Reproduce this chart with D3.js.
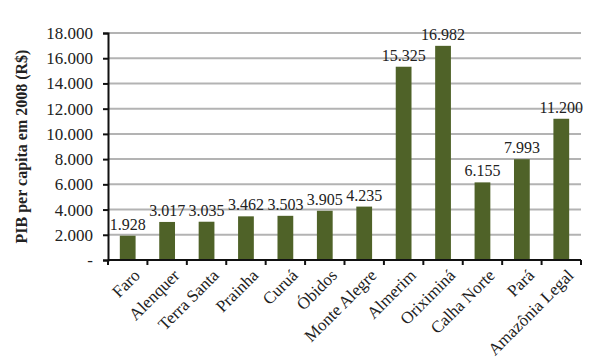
<!DOCTYPE html>
<html>
<head>
<meta charset="utf-8">
<script src="https://cdn.jsdelivr.net/npm/d3@7"></script>
<style>
  body { margin: 0; background: #fff; }
</style>
</head>
<body>
<svg width="602" height="359"></svg>
<script>
// data
var categories = ["Faro", "Alenquer", "Terra Santa", "Prainha", "Curuá", "Óbidos",
  "Monte Alegre", "Almerim", "Oriximiná", "Calha Norte", "Pará", "Amazônia Legal"];
var pibValues = [1928, 3017, 3035, 3462, 3503, 3905, 4235, 15325, 16982, 6155, 7993, 11200];
var yTicks = [0, 2000, 4000, 6000, 8000, 10000, 12000, 14000, 16000, 18000];

var FONT = "Liberation Serif";

var svg = d3.select("svg"),
    margin = {top: 33, right: 21, bottom: 99, left: 108},
    width = +svg.attr("width") - margin.left - margin.right,
    height = +svg.attr("height") - margin.top - margin.bottom,
    g = svg.append("g").attr("transform", "translate(" + margin.left + "," + margin.top + ")");

var x = d3.scaleBand().domain(categories).range([0, width]).paddingInner(0.6).paddingOuter(0.3);
var xb = d3.scaleBand().domain(categories).range([0, width]);
var y = d3.scaleLinear().domain([0, 18000]).range([height, 0]);

// pt-BR style thousands with dot, zero shown as a dash
var fmt = function(v) { return v === 0 ? "-" : d3.format(",")(v).replace(/,/g, "."); };

// gridlines
g.selectAll(".grid")
  .data(yTicks.filter(function(d) { return d > 0; }))
  .enter().append("line")
    .attr("x1", 0).attr("x2", width)
    .attr("y1", function(d) { return y(d); })
    .attr("y2", function(d) { return y(d); })
    .attr("stroke", "#b3b3b3").attr("stroke-width", 2);

// bars
g.selectAll(".bar")
  .data(categories)
  .enter().append("rect")
    .attr("x", function(d) { return x(d); })
    .attr("y", function(d, i) { return y(pibValues[i]); })
    .attr("width", x.bandwidth())
    .attr("height", function(d, i) { return height - y(pibValues[i]); })
    .attr("fill", "#4f6228");

// value labels
g.selectAll(".val")
  .data(categories)
  .enter().append("text")
    .attr("x", function(d) { return x(d) + x.bandwidth() / 2; })
    .attr("y", function(d, i) { return y(pibValues[i]) - 6; })
    .attr("text-anchor", "middle")
    .style("font-family", FONT)
    .style("font-size", "16px")
    .attr("fill", "#222")
    .text(function(d, i) { return fmt(pibValues[i]); });

// y axis
var yAxis = g.append("g")
  .call(d3.axisLeft(y).tickValues(yTicks).tickFormat(fmt).tickSize(5).tickPadding(10));
yAxis.select(".domain").attr("stroke", "#111").attr("stroke-width", 2);
yAxis.selectAll(".tick line").attr("stroke", "#111").attr("stroke-width", 2);
yAxis.selectAll("text").style("font-family", FONT).style("font-size", "17px").attr("fill", "#222");

// x axis with ticks at band edges
var xAxis = g.append("g").attr("transform", "translate(0," + height + ")");
xAxis.append("line").attr("x1", 0).attr("x2", width).attr("stroke", "#111").attr("stroke-width", 2);
xAxis.selectAll(".xt")
  .data(categories.concat(["end"]))
  .enter().append("line")
    .attr("x1", function(d, i) { return i * xb.bandwidth(); })
    .attr("x2", function(d, i) { return i * xb.bandwidth(); })
    .attr("y1", 0).attr("y2", 5)
    .attr("stroke", "#111").attr("stroke-width", 2);
xAxis.selectAll(".xl")
  .data(categories)
  .enter().append("text")
    .attr("transform", function(d) {
      return "translate(" + (xb(d) + xb.bandwidth() / 2 + 5) + ",8) rotate(-45)";
    })
    .attr("text-anchor", "end")
    .attr("dy", "0.7em")
    .style("font-family", FONT)
    .style("font-size", "17px")
    .attr("fill", "#222")
    .text(function(d) { return d; });

// y axis title
svg.append("text")
  .attr("transform", "translate(27," + (margin.top + height / 2) + ") rotate(-90)")
  .attr("text-anchor", "middle")
  .style("font-family", FONT)
  .style("font-size", "16px")
  .style("font-weight", "bold")
  .attr("fill", "#222")
  .text("PIB per capita em 2008 (R$)");
</script>
</body>
</html>
